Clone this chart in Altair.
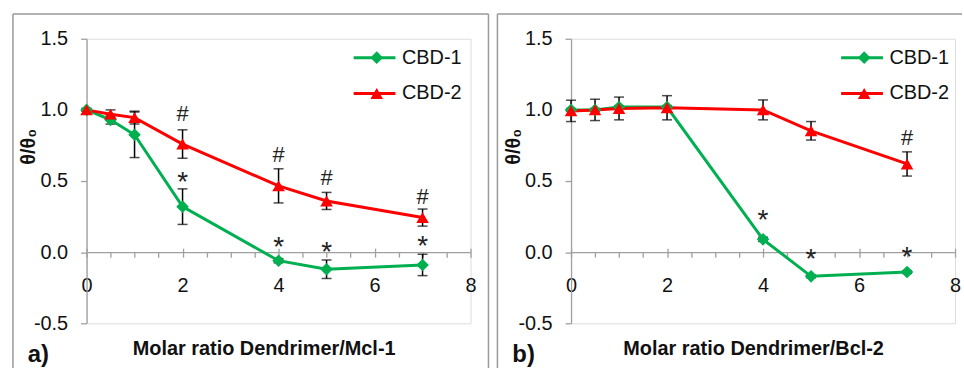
import altair as alt
import pandas as pd

# Molar ratios of dendrimer to protein
ratios = [0, 0.5, 1, 2, 4, 5, 7]
series_names = ["CBD-1", "CBD-2"]
series_colors = ["#00b050", "#ff0000"]

# Panel a) Mcl-1
mcl_cbd1 = [1.00, 0.93, 0.825, 0.32, -0.06, -0.12, -0.09]
mcl_cbd1_err = [0.01, 0.03, 0.16, 0.125, 0.015, 0.065, 0.075]
mcl_cbd2 = [1.00, 0.97, 0.946, 0.76, 0.466, 0.36, 0.243]
mcl_cbd2_err = [0.01, 0.03, 0.045, 0.10, 0.12, 0.06, 0.06]
mcl_sig_x = [2, 4, 5, 7, 2, 4, 5, 7]
mcl_sig_y = [0.97, 0.685, 0.52, 0.385, 0.51, 0.05, 0.014, 0.06]
mcl_sig_txt = ["#", "#", "#", "#", "*", "*", "*", "*"]

# Panel b) Bcl-2
bcl_cbd1 = [1.00, 1.00, 1.02, 1.02, 0.09, -0.17, -0.14]
bcl_cbd1_err = [0.01, 0.01, 0.01, 0.01, 0.015, 0.01, 0.01]
bcl_cbd2 = [0.993, 1.00, 1.01, 1.015, 1.00, 0.853, 0.62]
bcl_cbd2_err = [0.075, 0.075, 0.08, 0.085, 0.07, 0.065, 0.085]
bcl_sig_x = [7, 4, 5, 7]
bcl_sig_y = [0.80, 0.24, -0.035, -0.02]
bcl_sig_txt = ["#", "*", "*", "*"]

W, H = 386, 286
GREY = "#a0a0a0"
FRAME = "#9a9a9a"
INK = "#111111"
FONT = "Liberation Sans"
KEY_LEN = 42          # legend line length in px
MARKER_SIZE = 160


def table(v1, e1, v2, e2):
    rows = []
    for name, vals, errs in ((series_names[0], v1, e1), (series_names[1], v2, e2)):
        for r, v, e in zip(ratios, vals, errs):
            rows.append({"ratio": r, "series": name, "key": name,
                         "val": v, "lo": v - e, "hi": v + e})
    return pd.DataFrame(rows)


def frame_layers(right_end, closed):
    """Outer panel border drawn as separate edges."""
    one = alt.Data(values=[{}])
    edge = dict(color=FRAME, strokeWidth=1.5)
    parts = [
        alt.Chart(one).mark_rule(**edge).encode(
            x=alt.value(-74), y=alt.value(-25), y2=alt.value(331)),
        alt.Chart(one).mark_rule(**edge).encode(
            x=alt.value(-74), x2=alt.value(right_end), y=alt.value(-25)),
    ]
    if closed:
        parts.append(alt.Chart(one).mark_rule(**edge).encode(
            x=alt.value(right_end), y=alt.value(-25), y2=alt.value(331)))
    return parts


def panel(df, sig_df, x_title, tag, legend_x, title_x, right_end, closed):
    x_scale = alt.Scale(domain=[0, 8], nice=False, zero=False)
    y_scale = alt.Scale(domain=[-0.5, 1.5], nice=False, zero=False)
    line_scale = alt.Scale(domain=series_names, range=series_colors)
    fill_scale = alt.Scale(range=series_colors)
    shape_scale = alt.Scale(range=["diamond", "triangle-up"])

    y_axis = alt.Axis(
        values=[-0.5, 0, 0.5, 1.0, 1.5],
        labelExpr="datum.value < 0 ? '-' + format(-datum.value, '.1f') : format(datum.value, '.1f')",
        tickSize=6, tickColor=GREY,
        tickWidth=1.3, domainColor=GREY, domainWidth=1.3, grid=False,
        labelFontSize=20, labelColor=INK, labelPadding=13, labelFlush=False,
        title="θ/θ₀", titleFontSize=20, titleFontWeight="bold", titleColor=INK,
        titleX=-52, titleY=108, titleBaseline="alphabetic",
    )

    # line keys with labels, and marker keys laid over their middle
    line_legend = alt.Legend(
        title=None, orient="none", legendX=legend_x, legendY=7,
        symbolType="stroke", symbolSize=KEY_LEN ** 2, symbolStrokeWidth=3,
        labelFontSize=20, labelColor=INK, labelOffset=5,
        clipHeight=24, rowPadding=12, padding=0,
    )
    marker_legend = alt.Legend(
        title=None, orient="none",
        legendX=legend_x + KEY_LEN / 2 - MARKER_SIZE ** 0.5 / 2, legendY=7,
        symbolSize=MARKER_SIZE, symbolStrokeWidth=0, symbolOpacity=1,
        labelExpr="''", labelFontSize=20, labelOffset=5,
        clipHeight=24, rowPadding=12, padding=0,
    )

    x_plain = alt.X("ratio:Q", scale=x_scale, axis=None)

    base = alt.Chart(df)

    bars = base.mark_rule(color="black", strokeWidth=1.5).encode(
        x=x_plain, y=alt.Y("lo:Q", scale=y_scale, axis=y_axis), y2="hi:Q")
    cap_lo = base.mark_tick(color="black", thickness=1.5, size=10, orient="horizontal").encode(
        x=x_plain, y=alt.Y("lo:Q", scale=y_scale, axis=y_axis))
    cap_hi = base.mark_tick(color="black", thickness=1.5, size=10, orient="horizontal").encode(
        x=alt.X("ratio:Q", scale=x_scale, axis=alt.Axis(
            orient="top", offset=-H * 0.75, values=[0, 2, 4, 6, 8], tickSize=4,
            tickColor=GREY, tickWidth=1.3, labels=False, domain=False, grid=False, title=None)),
        y=alt.Y("hi:Q", scale=y_scale, axis=y_axis))

    lines = base.mark_line(strokeWidth=3).encode(
        x=alt.X("ratio:Q", scale=x_scale, axis=alt.Axis(
            values=[i * 0.5 for i in range(17)],
            labelExpr="datum.value % 2 == 0 ? format(datum.value, 'd') : ''",
            offset=-H / 4, tickSize=5, tickColor=GREY, tickWidth=1.3,
            domainColor=GREY, domainWidth=1.3, grid=False,
            labelFontSize=20, labelColor=INK, labelPadding=35, labelBaseline="alphabetic",
            labelFlush=False, labelOverlap=False,
            title=x_title, titleFontSize=20, titleFontWeight="bold", titleColor=INK,
            titleX=title_x, titleY=103, titleBaseline="alphabetic")),
        y=alt.Y("val:Q", scale=y_scale, axis=y_axis),
        stroke=alt.Stroke("series:N", scale=line_scale, legend=line_legend),
        detail="series:N",
    )

    points = base.mark_point(filled=True, size=MARKER_SIZE, opacity=1, strokeWidth=0).encode(
        x=x_plain, y=alt.Y("val:Q", scale=y_scale, axis=y_axis),
        fill=alt.Fill("key:N", scale=fill_scale, legend=marker_legend),
        shape=alt.Shape("key:N", scale=shape_scale, legend=marker_legend),
    )

    sig = alt.Chart(sig_df)
    hashes = sig.transform_filter(alt.datum.t == "#").mark_text(
        fontSize=22, color="#222", baseline="middle"
    ).encode(x=alt.X("x:Q", scale=x_scale, axis=None),
             y=alt.Y("y:Q", scale=y_scale, axis=y_axis), text="t:N")
    stars = sig.transform_filter(alt.datum.t == "*").mark_text(
        fontSize=28, color="#222", baseline="middle", dy=3
    ).encode(x=alt.X("x:Q", scale=x_scale, axis=None),
             y=alt.Y("y:Q", scale=y_scale, axis=y_axis), text="t:N")

    label = alt.Chart(alt.Data(values=[{"t": tag}])).mark_text(
        fontSize=24, fontWeight="bold", color=INK, align="left", baseline="alphabetic"
    ).encode(x=alt.value(-59), y=alt.value(325), text="t:N")

    layers = [bars, cap_lo, cap_hi, lines, points, hashes, stars, label]
    layers += frame_layers(right_end, closed)
    return alt.layer(*layers).resolve_axis(x="independent").properties(width=W, height=H)


mcl = table(mcl_cbd1, mcl_cbd1_err, mcl_cbd2, mcl_cbd2_err)
bcl = table(bcl_cbd1, bcl_cbd1_err, bcl_cbd2, bcl_cbd2_err)
mcl_sig = pd.DataFrame({"x": mcl_sig_x, "y": mcl_sig_y, "t": mcl_sig_txt})
bcl_sig = pd.DataFrame({"x": bcl_sig_x, "y": bcl_sig_y, "t": bcl_sig_txt})

left = panel(mcl, mcl_sig, "Molar ratio Dendrimer/Mcl-1", "a)", 267, 178, 404, True)
right = panel(bcl, bcl_sig, "Molar ratio Dendrimer/Bcl-2", "b)", 270, 183, 393, False)

chart = alt.hconcat(left, right, spacing=5).resolve_scale(
    stroke="independent", fill="independent", shape="independent"
).properties(
    padding={"left": 11, "top": 11, "right": 0, "bottom": 0}, background="white"
).configure_view(stroke=GREY, strokeWidth=1.5).configure(font=FONT)

chart.save("out.html", embed_options={"renderer": "svg", "actions": False})
